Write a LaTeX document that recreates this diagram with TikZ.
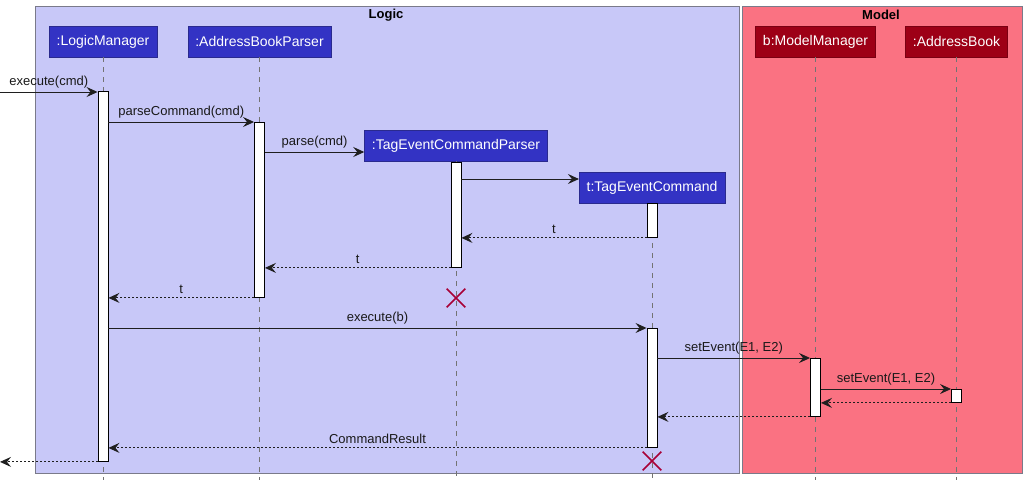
\documentclass[tikz,border=0pt]{standalone}
\usepackage{fontspec}
\setmainfont{Liberation Sans}
\usetikzlibrary{arrows.meta,shapes.misc}
\definecolor{logicbg}{HTML}{C8C8F8}
\definecolor{modelbg}{HTML}{FA7282}
\definecolor{framegray}{HTML}{7A7A8A}
\definecolor{partblue}{HTML}{3333C4}
\definecolor{partblueb}{HTML}{2A2A8E}
\definecolor{partred}{HTML}{9D0016}
\definecolor{partredb}{HTML}{7A0012}
\definecolor{xred}{HTML}{A80036}
\begin{document}
\begin{tikzpicture}[x=1pt,y=-1pt,
  frame/.style={draw=framegray, line width=1pt},
  ftitle/.style={font=\fontsize{13}{15}\selectfont\bfseries, inner sep=0pt},
  lpart/.style={fill=partblue, draw=partblueb, text=white, font=\fontsize{14}{16}\selectfont, minimum height=31pt, inner xsep=7.5pt, inner ysep=0pt},
  mpart/.style={lpart, fill=partred, draw=partredb},
  act/.style={draw=black, fill=white, minimum width=10pt, line width=0.9pt, inner sep=0pt, anchor=north},
  msg/.style={draw=black!88, line width=0.9pt, -{Stealth[length=11pt,width=10pt,inset=4pt]}},
  ret/.style={msg, dash pattern=on 2pt off 2pt},
  lbl/.style={font=\fontsize{13}{15}\selectfont, inner xsep=1.5pt, inner ysep=3.5pt, above, text=black!90},
  life/.style={draw=black!55, dash pattern=on 5pt off 5pt, line width=0.8pt},
  xmark/.style={cross out, draw=xred, line width=1.6pt, minimum size=17pt, inner sep=0pt}
]
\useasboundingbox (0,0) rectangle (1026,485);
% frames
\draw[frame, fill=logicbg] (35,6) rectangle (739,473);
\draw[frame, fill=modelbg] (742,6) rectangle (1022,473);
\node[ftitle] (tlogic) at (386,15) {Logic};
\node[ftitle] (tmodel) at (881,15) {Model};
\coordinate (bot) at (0,480);
% participants
\node[lpart] (lm) at (103,41.5) {:LogicManager};
\node[lpart] (abp) at (259.5,41.5) {:AddressBookParser};
\node[lpart] (tecp) at (456,145.5) {:TagEventCommandParser};
\node[lpart] (tec) at (652,187.5) {t:TagEventCommand};
\node[mpart] (mm) at (815.5,41.5) {b:ModelManager};
\node[mpart] (ab) at (956.5,41.5) {:AddressBook};
% lifelines
\draw[life] (lm.south) -- (lm.south |- bot);
\draw[life] (abp.south) -- (abp.south |- bot);
\draw[life] (tecp.south) -- (tecp.south |- bot);
\draw[life] (tec.south) -- (tec.south |- bot);
\draw[life] (mm.south) -- (mm.south |- bot);
\draw[life] (ab.south) -- (ab.south |- bot);
% activations
\node[act, minimum height=370pt] (a1) at (103,91) {};
\node[act, minimum height=175pt] (a2) at (259.5,122) {};
\node[act, minimum height=105pt] (a3) at (456,162) {};
\node[act, minimum height=34pt] (a4) at (652,203) {};
\node[act, minimum height=119pt] (a5) at (652,328) {};
\node[act, minimum height=58pt] (a6) at (815.5,358) {};
\node[act, minimum height=13pt] (a7) at (956.5,389) {};
% messages
\coordinate (in) at (0,92);
\coordinate (out) at (0,461);
\draw[msg] (in) -- node[lbl] {execute(cmd)} (in -| a1.west);
\draw[msg] (a1.east |- a2.north) -- node[lbl] {parseCommand(cmd)} (a2.north west);
\draw[msg] (a2.east |- 0,152) -- node[lbl] {parse(cmd)} (tecp.west |- 0,152);
\draw[msg] (a3.east |- 0,179) -- (tec.west |- 0,179);
\draw[ret] (a4.south west) -- node[lbl] {t} (a3.east |- a4.south);
\draw[ret] (a3.south west) -- node[lbl] {t} (a2.east |- a3.south);
\draw[ret] (a2.south west) -- node[lbl] {t} (a1.east |- a2.south);
\draw[msg] (a1.east |- a5.north) -- node[lbl] {execute(b)} (a5.north west);
\draw[msg] (a5.east |- a6.north) -- node[lbl] {setEvent(E1, E2)} (a6.north west);
\draw[msg] (a6.east |- a7.north) -- node[lbl] {setEvent(E1, E2)} (a7.north west);
\draw[ret] (a7.south west) -- (a6.east |- a7.south);
\draw[ret] (a6.south west) -- (a5.east |- a6.south);
\draw[ret] (a5.south west) -- node[lbl] {CommandResult} (a1.east |- a5.south);
\draw[ret] (a1.south west) -- (out |- a1.south);
% destroy marks
\node[xmark] (x1) at (456,298) {};
\node[xmark] (x2) at (652,461) {};
\end{tikzpicture}
\end{document}
